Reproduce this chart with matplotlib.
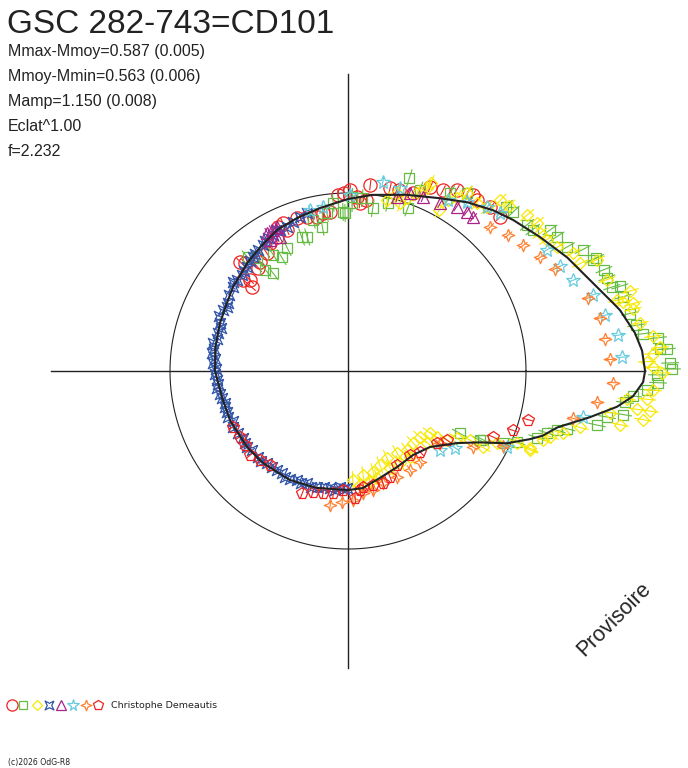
import numpy as np
import matplotlib
matplotlib.use("Agg")
import matplotlib.pyplot as plt
from matplotlib.collections import LineCollection
from matplotlib.lines import Line2D

TITLE = "GSC 282-743=CD101"
INFO = ["Mmax-Mmoy=0.587 (0.005)", "Mmoy-Mmin=0.563 (0.006)",
        "Mamp=1.150 (0.008)", "Eclat^1.00", "f=2.232"]
OBSERVER = "Christophe Demeautis"
CREDIT = "(c)2026 OdG-R8"
WATERMARK = "Provisoire"

# polar light curve: angle = phase (counter-clockwise from east), radius = flux / mean flux
model_phase = [0.000, 0.011, 0.021, 0.035, 0.040, 0.057, 0.076, 0.097, 0.118, 0.133,
               0.152, 0.172, 0.199, 0.228, 0.250, 0.277, 0.301, 0.324, 0.347, 0.369,
               0.400, 0.419, 0.443, 0.472, 0.500, 0.533, 0.564, 0.603, 0.631, 0.672,
               0.708, 0.750, 0.770, 0.796, 0.825, 0.855, 0.881, 0.907, 0.921, 0.932,
               0.943, 0.949, 0.958, 0.970, 0.979, 0.986, 0.994, 1.000]
model_flux = [1.669, 1.656, 1.626, 1.566, 1.537, 1.453, 1.387, 1.315, 1.257, 1.217,
              1.161, 1.100, 1.043, 0.999, 0.966, 0.929, 0.906, 0.887, 0.854, 0.830,
              0.800, 0.780, 0.768, 0.757, 0.747, 0.723, 0.718, 0.710, 0.704, 0.694,
              0.680, 0.669, 0.663, 0.627, 0.606, 0.597, 0.628, 0.734, 0.842, 0.980,
              1.092, 1.153, 1.217, 1.384, 1.525, 1.608, 1.659, 1.669]

rc_phase = [0.371, 0.386, 0.381, 0.364, 0.358, 0.346, 0.337, 0.328, 0.322, 0.316,
            0.315, 0.301, 0.291, 0.282, 0.275, 0.268, 0.254, 0.242, 0.233, 0.231,
            0.214, 0.206, 0.194, 0.183, 0.173, 0.164, 0.152, 0.147, 0.136, 0.126,
            0.374, 0.386, 0.248, 0.259, 0.239]
rc_flux = [0.838, 0.717, 0.751, 0.769, 0.787, 0.804, 0.842, 0.852, 0.899, 0.908,
           0.863, 0.906, 0.895, 0.883, 0.899, 0.899, 1.000, 0.979, 0.966, 1.052,
           1.055, 1.058, 1.065, 1.132, 1.148, 1.187, 1.213, 1.203, 1.219, 1.216,
           0.862, 0.780, 1.017, 0.990, 0.946]

gs_phase = [0.365, 0.358, 0.359, 0.354, 0.323, 0.334, 0.341, 0.303, 0.297, 0.278,
            0.286, 0.271, 0.255, 0.264, 0.246, 0.237,
            0.201, 0.226, 0.253, 0.246, 0.213, 0.194, 0.190, 0.167, 0.156, 0.128,
            0.122, 0.109, 0.104, 0.097, 0.091, 0.082, 0.076, 0.068, 0.055, 0.048, 0.042,
            0.068, 0.060, 0.049, 0.025, 0.011, 0.004,
            0.032, 0.020, 0.017, 0.011, 0.001, 0.998, 0.994, 0.990, 0.986, 0.982,
            0.975, 0.972, 0.966, 0.959, 0.956, 0.952, 0.937, 0.931, 0.923,
            0.919, 0.925, 0.946]
gs_flux = [0.852, 0.815, 0.734, 0.693, 0.771, 0.740, 0.776, 0.796, 0.787, 0.822,
           0.871, 0.895, 0.894, 0.948, 0.978, 0.975,
           1.139, 0.926, 0.888, 0.944, 0.970, 0.976, 1.094, 1.153, 1.203, 1.283,
           1.287, 1.298, 1.307, 1.384, 1.395, 1.414, 1.485, 1.511, 1.546, 1.599, 1.600,
           1.531, 1.546, 1.555, 1.639, 1.757, 1.810,
           1.617, 1.671, 1.752, 1.796, 1.820, 1.736, 1.743, 1.683, 1.608, 1.566,
           1.565, 1.478, 1.431, 1.271, 1.220, 1.171, 1.030, 0.960, 0.837,
           0.719, 0.852, 1.125]

yd_phase = [0.202, 0.198, 0.191, 0.185, 0.184, 0.168, 0.166, 0.161, 0.156, 0.146,
            0.138, 0.134, 0.127, 0.114, 0.106, 0.099, 0.093, 0.085, 0.077, 0.069,
            0.067, 0.054, 0.044, 0.037, 0.041, 0.214, 0.207,
            0.039, 0.034, 0.026, 0.018, 0.012, 0.009, 0.005, 0.002, 0.999, 0.990,
            0.985, 0.979, 0.979, 0.974, 0.969, 0.984, 0.975, 0.962, 0.955, 0.950,
            0.946, 0.936, 0.936,
            0.757, 0.773, 0.789, 0.802, 0.817, 0.836, 0.852, 0.867, 0.882, 0.897,
            0.898, 0.903, 0.912, 0.918, 0.918, 0.928, 0.935, 0.767, 0.781, 0.815,
            0.792, 0.832, 0.849, 0.883]
yd_flux = [0.988, 1.027, 1.072, 1.120, 1.152, 1.042, 1.110, 1.149, 1.203, 1.190,
           1.208, 1.285, 1.295, 1.334, 1.349, 1.328, 1.339, 1.365, 1.427, 1.438,
           1.532, 1.542, 1.648, 1.646, 1.563, 0.985, 1.037,
           1.592, 1.637, 1.662, 1.724, 1.758, 1.716, 1.680, 1.714, 1.764, 1.717,
           1.688, 1.711, 1.638, 1.680, 1.558, 1.576, 1.491, 1.341, 1.257, 1.194,
           1.162, 1.110, 1.032,
           0.613, 0.590, 0.584, 0.558, 0.536, 0.537, 0.554, 0.545, 0.549, 0.578,
           0.622, 0.678, 0.719, 0.787, 0.870, 0.930, 1.115, 0.644, 0.636, 0.594,
           0.623, 0.594, 0.596, 0.600]

bs_phase = [0.443, 0.428, 0.418, 0.400, 0.391, 0.383, 0.373, 0.361, 0.352, 0.344,
            0.336, 0.330, 0.321, 0.314, 0.306, 0.298, 0.290,
            0.455, 0.468, 0.479, 0.491, 0.503, 0.511, 0.521, 0.534, 0.545, 0.558,
            0.572, 0.582, 0.597, 0.610, 0.621, 0.635, 0.651, 0.665, 0.680, 0.694,
            0.708, 0.726, 0.739, 0.749,
            0.448, 0.436, 0.423, 0.409, 0.395, 0.378, 0.366, 0.357, 0.340, 0.325,
            0.462, 0.474, 0.486, 0.497, 0.516, 0.528, 0.540, 0.552, 0.565, 0.590,
            0.603, 0.628, 0.643, 0.658, 0.672, 0.687, 0.701, 0.717, 0.733, 0.745]
bs_flux = [0.768, 0.781, 0.775, 0.800, 0.806, 0.803, 0.815, 0.834, 0.847, 0.854,
           0.872, 0.873, 0.879, 0.879, 0.892, 0.906, 0.917,
           0.761, 0.775, 0.771, 0.760, 0.747, 0.738, 0.742, 0.724, 0.720, 0.722,
           0.719, 0.709, 0.706, 0.698, 0.699, 0.689, 0.684, 0.693, 0.676, 0.670,
           0.675, 0.665, 0.653, 0.657,
           0.752, 0.790, 0.770, 0.792, 0.818, 0.812, 0.828, 0.842, 0.866, 0.888,
           0.758, 0.765, 0.752, 0.741, 0.735, 0.730, 0.713, 0.715, 0.707, 0.700,
           0.708, 0.702, 0.690, 0.681, 0.688, 0.679, 0.682, 0.668, 0.671, 0.662]

pt_phase = [0.334, 0.329, 0.323, 0.336, 0.325, 0.206, 0.197, 0.170, 0.157, 0.148,
            0.141, 0.185]
pt_flux = [0.899, 0.900, 0.902, 0.857, 0.844, 1.016, 1.059, 1.076, 1.106, 1.116,
           1.114, 1.065]

cs_phase = [0.287, 0.274, 0.248, 0.221, 0.206, 0.166, 0.152, 0.138, 0.128, 0.087,
            0.073, 0.061, 0.048, 0.034, 0.021, 0.008, 0.969, 0.887, 0.901, 0.929]
cs_flux = [0.929, 0.932, 0.989, 1.080, 1.069, 1.110, 1.161, 1.208, 1.232, 1.308,
           1.327, 1.363, 1.441, 1.478, 1.530, 1.541, 1.345, 0.681, 0.741, 0.990]

os_phase = [0.126, 0.112, 0.099, 0.085, 0.073, 0.047, 0.033, 0.020, 0.007, 0.993,
            0.980, 0.967, 0.894, 0.913, 0.928, 0.857, 0.839, 0.819, 0.798, 0.783,
            0.769, 0.756, 0.729, 0.743]
os_flux = [1.136, 1.180, 1.211, 1.254, 1.300, 1.409, 1.447, 1.456, 1.473, 1.490,
           1.410, 1.291, 0.656, 0.822, 0.970, 0.652, 0.656, 0.656, 0.659, 0.683,
           0.691, 0.725, 0.760, 0.737]

rp_phase = [0.572, 0.587, 0.599, 0.613, 0.626, 0.640, 0.693, 0.705, 0.718, 0.731,
            0.743, 0.759, 0.771, 0.766, 0.784, 0.798, 0.810, 0.826, 0.851, 0.866,
            0.892, 0.903, 0.932, 0.945, 0.958]
rp_flux = [0.719, 0.711, 0.712, 0.725, 0.703, 0.686, 0.733, 0.708, 0.700, 0.690,
           0.669, 0.715, 0.657, 0.672, 0.656, 0.659, 0.641, 0.596, 0.587, 0.609,
           0.643, 0.678, 0.895, 0.984, 1.048]

STAR4 = [(0, 1), (0.28, 0.28), (1, 0), (0.28, -0.28), (0, -1), (-0.28, -0.28),
         (-1, 0), (-0.28, 0.28), (0, 1)]
XSTAR = [(1, 1), (0, 0.5), (-1, 1), (-0.5, 0), (-1, -1), (0, -0.5), (1, -1),
         (0.5, 0), (1, 1)]

# (phase, flux, marker, colour, size, radial error)
SERIES = [
    (rc_phase, rc_flux, "o", "#ee2222", 9.5, 0.03),
    (gs_phase, gs_flux, "s", "#66bb44", 7.0, 0.05),
    (yd_phase, yd_flux, "D", "#f8e800", 6.5, 0.05),
    (bs_phase, bs_flux, XSTAR, "#3355aa", 7.5, 0.02),
    (pt_phase, pt_flux, "^", "#aa2288", 8.0, 0.03),
    (cs_phase, cs_flux, "*", "#66ccdd", 10.0, 0.03),
    (os_phase, os_flux, STAR4, "#ff8030", 9.0, 0.03),
    (rp_phase, rp_flux, "p", "#ee2222", 8.5, 0.03),
]

W, H = 688, 768
CX, CY, R = 348, 371, 178   # pixel centre and radius of the mean-flux circle


def to_xy(phase, flux):
    t = 2 * np.pi * np.asarray(phase)
    f = np.asarray(flux)
    return f * np.cos(t), f * np.sin(t)


fig = plt.figure(figsize=(W / 100, H / 100), dpi=100)
ax = fig.add_axes([0, 0, 1, 1])
ax.set_xlim(-CX / R, (W - CX) / R)
ax.set_ylim(-(H - CY) / R, CY / R)
ax.set_aspect("equal")
ax.axis("off")

rmax = max(model_flux)
ax.plot([-rmax, rmax], [0, 0], color="#222222", lw=1.0, zorder=1)
ax.plot([0, 0], [-rmax, rmax], color="#222222", lw=1.0, zorder=1)
tt = np.linspace(0, 2 * np.pi, 400)
ax.plot(np.cos(tt), np.sin(tt), color="#222222", lw=0.8, zorder=1)

for k, (ph, fl, mk, col, ms, err) in enumerate(SERIES):
    t = 2 * np.pi * np.asarray(ph)
    f = np.asarray(fl)
    segs = np.stack([np.column_stack([(f - err) * np.cos(t), (f - err) * np.sin(t)]),
                     np.column_stack([(f + err) * np.cos(t), (f + err) * np.sin(t)])], axis=1)
    ax.add_collection(LineCollection(segs, colors=col, linewidths=0.8, zorder=2 + k))
    x, y = to_xy(ph, fl)
    ax.plot(x, y, linestyle="none", marker=mk, ms=ms, mfc="none", mec=col,
            mew=0.9, zorder=2 + k)

mx, my = to_xy(model_phase, model_flux)
ax.plot(mx, my, color="#222222", lw=1.5, zorder=20)


def fx(px):
    return px / W


def fy(py):
    return 1 - py / H


fig.text(fx(7), fy(33), TITLE, fontsize=24, family="Liberation Sans",
         color="#222222", va="baseline")
for i, line in enumerate(INFO):
    fig.text(fx(8), fy(56 + 25 * i), line, fontsize=11.5, family="Liberation Sans",
             color="#222222", va="baseline")

fig.text(fx(614), fy(619), WATERMARK, fontsize=15.5, family="Liberation Sans",
         color="#222222", rotation=45, ha="center", va="center")

# observer legend row
leg_x = [12, 23, 37, 49, 61, 73, 86, 98]
for (ph, fl, mk, col, ms, err), lx in zip(SERIES, leg_x):
    fig.add_artist(Line2D([fx(lx)], [fy(705)], marker=mk, ms=ms * 0.85, mfc="none",
                          mec=col, mew=0.9, linestyle="none",
                          transform=fig.transFigure))
fig.text(fx(111), fy(705), OBSERVER, fontsize=6.8, family="DejaVu Sans",
         color="#222222", va="center")
fig.text(fx(8), fy(762), CREDIT, fontsize=5.6, family="DejaVu Sans",
         color="#222222", va="center")

fig.savefig("out.png", dpi=100)
